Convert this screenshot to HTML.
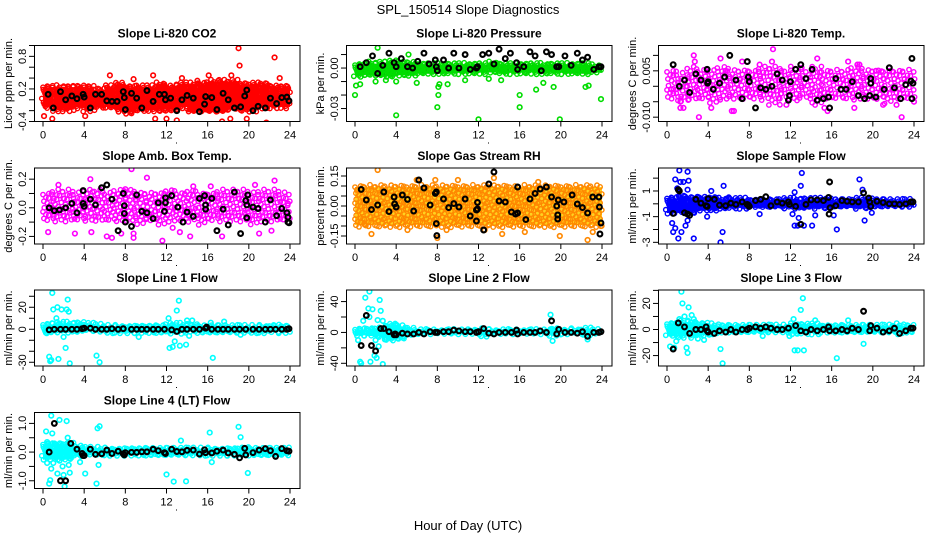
<!DOCTYPE html>
<html><head><meta charset="utf-8"><title>SPL_150514 Slope Diagnostics</title>
<style>
html,body{margin:0;padding:0;background:#fff;}
svg{display:block;font-family:"Liberation Sans",sans-serif;}
</style></head>
<body>
<svg id="chart" width="936" height="540" viewBox="0 0 936 540" xmlns="http://www.w3.org/2000/svg">
<rect x="0" y="0" width="936" height="540" fill="#fff"/>
<text x="468" y="14" text-anchor="middle" font-size="13">SPL_150514  Slope Diagnostics</text>
<text x="468" y="530" text-anchor="middle" font-size="13">Hour of Day (UTC)</text>
</svg>
<script>
// ---------------- DATA ----------------
const xTicks = [0,4,8,12,16,20,24];

const co2Lo = [-0.15,-0.2,-0.2,-0.15,-0.2,-0.15,-0.15,-0.2,-0.25,-0.2,-0.2,-0.2,-0.2,-0.15,-0.25,-0.25,-0.25,-0.25,-0.2,-0.2,-0.2,-0.15,-0.15,-0.15];
const co2Hi = [0.25,0.25,0.25,0.25,0.25,0.2,0.25,0.3,0.25,0.25,0.25,0.3,0.25,0.3,0.3,0.3,0.35,0.35,0.35,0.3,0.3,0.3,0.25,0.25];
const co2Outliers = [[0.1,-0.3],[0.9,-0.35],[4.1,-0.3],[6.5,0.45],[8.8,0.38],[10.7,0.45],[10.9,-0.35],[13.5,0.4],[15.5,-0.45],[16.1,0.45],[17.4,-0.4],[18.2,-0.35],[18.3,0.45],[19.0,0.95],[19.1,0.63],[19.8,-0.35],[21.7,-0.42],[22.5,0.78],[23.0,0.4],[12.0,-0.35],[15.0,0.35],[13,-0.38]];
const co2Hourly = [[0.5,0.1],[1.0,-0.15],[1.7,0.15],[2.2,0.0],[2.8,0.07],[3.3,0.02],[3.9,0.1],[4.0,0.05],[4.6,-0.15],[5.1,0.1],[5.7,0.1],[6.2,-0.02],[6.7,-0.03],[7.2,-0.03],[7.8,0.15],[7.9,0.04],[8.0,-0.18],[8.6,0.12],[9.1,0.03],[9.6,-0.15],[10.1,0.17],[10.7,-0.03],[11.3,0.1],[11.8,0.1],[11.9,0.0],[12.4,0.03],[13.0,-0.2],[13.5,0.0],[14.0,0.08],[14.6,0.03],[15.2,-0.22],[15.7,-0.08],[15.8,0.06],[16.4,0.04],[16.9,-0.18],[17.5,0.12],[18.0,0.0],[18.6,-0.15],[19.2,-0.13],[19.6,0.07],[19.8,0.18],[20.4,-0.2],[20.9,-0.12],[21.6,-0.15],[22.1,0.03],[22.7,-0.07],[23.2,0.04],[23.7,0.05],[23.9,-0.02]];

const presLo = [-0.006,-0.006,-0.007,-0.007,-0.006,-0.006,-0.005,-0.005,-0.005,-0.004,-0.004,-0.004,-0.004,-0.004,-0.005,-0.004,-0.004,-0.004,-0.004,-0.004,-0.004,-0.005,-0.005,-0.004];
const presHi = [0.003,0.004,0.004,0.005,0.004,0.004,0.003,0.003,0.003,0.003,0.003,0.003,0.003,0.004,0.003,0.003,0.003,0.003,0.003,0.003,0.003,0.003,0.003,0.002];
const presOutliers = [[0.0,-0.02],[0.1,-0.013],[2.2,0.015],[4.0,-0.035],[5.2,0.010],[8.0,-0.029],[8.1,-0.02],[8.1,-0.014],[8.2,-0.012],[9.0,-0.012],[12.0,-0.038],[16.0,-0.02],[16.0,-0.029],[17.6,-0.016],[19.9,-0.038],[19.3,-0.014],[22.4,-0.014],[22.7,-0.013],[23.9,-0.023],[3.0,-0.009],[4.0,-0.01],[6.0,-0.011],[10.7,-0.009],[13.0,-0.008],[14.2,-0.009],[18.3,-0.011],[2.0,-0.01],[0.5,-0.012]];
const presHourly = [[0.5,0.001],[1.1,0.004],[1.7,0.009],[2.2,-0.004],[2.7,0.002],[3.3,0.011],[3.8,0.004],[4.0,0.001],[4.5,0.007],[5.1,0.001],[5.6,0],[6.1,0.005],[6.7,0.011],[7.2,0.003],[7.8,0.006],[7.9,0.001],[8.0,-0.002],[8.6,0.006],[9.1,0],[9.6,0.011],[10.1,0],[10.7,0.01],[11.2,-0.001],[11.8,0],[11.9,0.001],[12.4,0.01],[13.0,0.011],[13.5,0.003],[14.0,0.014],[14.6,0.007],[15.1,0.011],[15.7,0.004],[15.8,-0.001],[16.4,0.001],[17.0,0.012],[17.5,0.009],[18.1,-0.002],[18.6,0.012],[19.1,0.010],[19.6,0.001],[19.8,0.001],[20.4,0.009],[21.0,0.002],[21.6,0.011],[22.1,0.006],[22.6,0.008],[23.2,-0.001],[23.7,0.001],[23.9,0.001]];

const tempLo = [-0.005,-0.006,-0.005,-0.005,-0.006,-0.005,-0.005,-0.005,-0.005,-0.005,-0.006,-0.005,-0.005,-0.005,-0.006,-0.005,-0.005,-0.005,-0.005,-0.005,-0.005,-0.006,-0.005,-0.005];
const tempHi = [0.005,0.004,0.006,0.005,0.005,0.006,0.005,0.005,0.005,0.006,0.006,0.005,0.006,0.005,0.006,0.005,0.005,0.005,0.006,0.005,0.005,0.005,0.005,0.005];
const tempOutliers = [[0.4,-0.001],[1.3,-0.005],[1.3,-0.007],[1.6,-0.007],[2.6,0.010],[2.7,0.008],[3.1,-0.010],[4.3,-0.007],[5.2,0.009],[5.7,0.005],[6.3,-0.008],[6.5,-0.008],[7.3,0.008],[9.0,0.007],[10.3,0.012],[10.2,0.008],[11.6,-0.006],[14.6,0.009],[15.3,-0.007],[15.6,-0.008],[17.6,0.008],[18.2,-0.007],[18.5,0.007],[18.7,0.007],[22.8,-0.010],[22.3,-0.006],[24,-0.005],[20.3,0.005],[21.0,-0.006]];
const tempHourly = [[0.6,0.007],[1.2,0.0],[1.7,0.002],[2.2,-0.002],[2.8,0.004],[3.3,0.002],[3.9,0.0055],[3.95,0.001],[4.0,0.0015],[4.5,-0.001],[5.1,0.001],[5.6,0.003],[6.1,0.010],[6.7,0.002],[7.3,-0.004],[7.8,0.008],[7.9,0.003],[8.0,0.0015],[8.6,-0.007],[9.1,-0.0005],[9.6,-0.001],[10.2,0],[10.7,0.004],[11.2,0.002],[11.8,-0.0045],[11.9,-0.003],[12.0,0.0015],[12.5,0.0055],[13.0,0.007],[13.5,0.0025],[14.1,0.0055],[14.6,-0.0045],[15.2,-0.004],[15.7,-0.0035],[15.8,-0.007],[16.4,0.0025],[16.9,-0.001],[17.4,-0.001],[18.0,0.0015],[18.6,-0.003],[19.2,-0.004],[19.7,-0.003],[19.8,0.001],[19.8,0.0025],[20.3,-0.0035],[21.1,-0.001],[21.6,0.006],[22.1,-0.0005],[22.7,-0.004],[23.2,0.0005],[23.7,0.0017],[23.8,0.009],[23.9,0.001],[23.8,-0.004]];

const ambLo = [-0.1,-0.1,-0.12,-0.1,-0.1,-0.12,-0.1,-0.1,-0.1,-0.12,-0.1,-0.12,-0.1,-0.1,-0.1,-0.12,-0.1,-0.1,-0.1,-0.1,-0.12,-0.1,-0.1,-0.1];
const ambHi = [0.1,0.12,0.12,0.1,0.12,0.12,0.1,0.12,0.12,0.1,0.1,0.1,0.12,0.1,0.12,0.1,0.1,0.12,0.12,0.12,0.1,0.12,0.12,0.1];
const ambOutliers = [[0.5,-0.17],[1.5,0.16],[3.1,-0.18],[4.6,0.2],[4.7,-0.17],[6.2,-0.2],[6.7,-0.21],[7.6,-0.18],[8.0,0.13],[8.6,0.27],[8.8,-0.18],[8.8,-0.21],[10.1,0.21],[11.6,-0.23],[12.6,-0.14],[13.3,-0.17],[14.3,-0.2],[17.4,-0.2],[21.0,-0.18],[22.5,0.19],[23.8,0.03],[14.6,0.15],[22.2,-0.16],[16.3,0.15],[20.6,0.16]];
const ambHourly = [[0.6,0],[1.1,-0.02],[1.6,-0.015],[2.2,0],[2.8,0.03],[3.3,-0.035],[3.9,0.12],[3.9,0.03],[4.0,0.01],[4.6,0.06],[5.1,0.02],[5.7,0.14],[6.2,0.16],[6.7,0.06],[7.3,-0.16],[7.8,0.1],[7.9,0.015],[7.9,-0.04],[8.0,-0.1],[8.6,-0.13],[9.1,0.09],[9.6,-0.025],[10.1,-0.035],[10.7,-0.075],[11.2,0.035],[11.8,-0.025],[11.9,0.07],[11.9,0.035],[12.5,0.085],[13.1,0.005],[13.6,-0.1],[14.0,-0.03],[14.6,-0.06],[15.2,0.065],[15.7,0.085],[15.8,0.02],[15.8,-0.01],[16.4,0.065],[16.9,-0.16],[17.5,-0.01],[18.0,-0.12],[18.6,0.11],[19.2,-0.18],[19.7,0.05],[19.8,0.02],[19.9,0.09],[19.8,-0.07],[20.4,0.005],[20.9,-0.005],[21.6,-0.1],[22.1,0.055],[22.7,-0.055],[23.2,-0.005],[23.7,-0.035],[23.8,-0.1],[23.9,-0.105],[23.8,-0.065]];

const rhLo = [-0.1,-0.1,-0.1,-0.1,-0.1,-0.1,-0.1,-0.1,-0.1,-0.1,-0.1,-0.1,-0.1,-0.1,-0.1,-0.1,-0.1,-0.1,-0.1,-0.1,-0.1,-0.1,-0.1,-0.1];
const rhHi = [0.1,0.1,0.1,0.1,0.1,0.1,0.1,0.1,0.1,0.1,0.1,0.1,0.1,0.1,0.1,0.1,0.1,0.1,0.1,0.1,0.1,0.1,0.1,0.1];
const rhOutliers = [[2.2,0.18],[1.6,-0.14],[0.9,-0.09],[5.1,-0.12],[8.0,-0.16],[8.9,-0.12],[12.6,-0.12],[14.3,-0.14],[16.5,-0.13],[19.9,-0.15],[22.6,-0.17],[23.1,-0.13],[23.9,-0.1],[7.8,0.13],[10.0,0.13],[13.5,0.14],[0.2,0.08],[6.0,0.13],[17.8,0.12]];
const rhHourly = [[0.6,0.083],[1.1,0.03],[1.6,-0.018],[2.2,0.005],[2.8,0.07],[3.3,-0.028],[3.8,0.045],[3.85,0.01],[4.0,-0.005],[4.6,0.055],[5.1,0.033],[5.7,-0.025],[6.2,0.13],[6.7,0.09],[7.3,0.005],[7.8,0.063],[7.9,0.07],[7.9,-0.088],[7.95,-0.148],[8.6,0.035],[9.1,-0.008],[9.6,0.012],[10.1,-0.005],[10.7,0.035],[11.2,-0.05],[11.8,-0.02],[11.9,-0.015],[11.8,-0.075],[11.9,0.018],[12.5,-0.12],[13.0,0.11],[13.5,0.17],[14.0,0.025],[14.6,0.02],[15.2,-0.03],[15.6,-0.04],[15.8,0.095],[15.8,-0.035],[16.6,-0.068],[17.0,0.035],[17.5,0.063],[18.0,0.085],[18.6,0.095],[19.1,0.045],[19.6,0.0],[19.75,0.03],[19.7,-0.045],[19.7,-0.065],[20.3,0.02],[21.1,0.055],[21.6,0.01],[22.1,-0.008],[22.6,-0.035],[23.1,0.045],[23.7,0.045],[23.75,-0.005],[23.9,-0.085],[23.8,-0.14]];

const flowLo = [-0.8,-0.8,-0.7,-0.6,-0.6,-0.5,-0.4,-0.4,-0.4,-0.4,-0.4,-0.4,-0.5,-0.5,-0.4,-0.4,-0.4,-0.4,-0.4,-0.4,-0.3,-0.3,-0.3,-0.3];
const flowHi = [0.5,0.6,0.5,0.5,0.5,0.4,0.4,0.4,0.3,0.3,0.3,0.4,0.4,0.4,0.4,0.4,0.3,0.3,0.4,0.4,0.3,0.3,0.3,0.3];
const flowOutliers = [[1.2,2.6],[2.0,2.5],[0.8,1.9],[2.1,1.8],[1.3,1.7],[1.6,1.7],[1.0,1.2],[2.0,1.1],[0.5,-1.5],[0.6,-2.2],[0.8,-1.9],[1.1,-2.7],[1.4,-2.2],[1.8,-1.7],[2.0,-1.3],[2.6,-2.7],[3.9,-1.0],[4.3,1.0],[5.2,-3.0],[5.4,-2.2],[5.5,1.4],[6.0,0.5],[12.2,-0.8],[12.4,-1.7],[12.7,-1.7],[12.8,-1.1],[13.0,1.4],[13.1,2.4],[13.3,-1.7],[14.1,-1.7],[14.4,-0.9],[16.2,-0.9],[16.5,-2.0],[18.7,1.9],[19.2,-1.3],[19.0,1.1],[19.9,-0.7],[12.4,0.9],[9.0,-0.8]];
const flowHourly = [[0.6,-0.75],[1.1,1.1],[1.2,1.0],[1.7,-0.7],[2.0,-0.8],[2.2,-0.9],[2.8,0.35],[3.3,0.05],[3.8,-0.15],[3.9,-0.2],[4.0,0.4],[4.6,0.35],[5.1,-0.1],[5.7,-0.15],[6.2,0.05],[6.7,-0.05],[7.3,0.15],[7.8,-0.05],[7.9,-0.1],[8.0,-0.2],[8.6,0.25],[9.1,0.35],[9.6,0.55],[10.1,-0.15],[10.7,0.15],[11.2,0.05],[11.8,0.15],[11.9,-0.05],[12.5,-0.2],[13.0,-1.6],[13.5,-0.05],[14.0,0.3],[14.6,0.3],[15.2,0.25],[15.7,0.5],[15.8,1.7],[15.75,-0.8],[15.85,-0.3],[16.4,-0.15],[17.0,0.25],[17.5,0.2],[18.0,0.15],[18.6,0.15],[19.1,0.85],[19.6,0.45],[19.7,0.15],[19.8,-0.2],[20.4,0.2],[21.0,0.1],[21.6,0.0],[22.1,0.0],[22.6,-0.05],[23.2,0.0],[23.7,0.15],[23.9,0.15]];

const l1Lo = [-5,-4,-4,-4,-3,-3,-3,-3,-3,-3,-3,-3,-4,-4,-3,-3,-3,-3,-3,-3,-3,-3,-3,-3];
const l1Hi = [5,6,6,6,5,4,3,3,3,3,3,3,5,5,4,3,3,3,3,3,3,3,4,3];
const l1Outliers = [[0.9,33],[1.0,18],[1.3,10],[1.4,20],[1.8,18],[2.3,18],[2.4,27],[2.5,16],[0.6,-25],[0.7,-29],[0.8,-28],[1.5,-27],[2.0,-7],[2.2,-17],[2.6,-31],[5.2,-24],[5.5,-30],[9.3,-7],[12.2,10],[12.3,-17],[12.6,-16],[12.8,-11],[13.0,17],[13.2,26],[13.3,-15],[13.9,-14],[14.2,-6],[16.3,6],[16.5,-26],[17.6,7],[14.0,8],[14.5,8],[19.2,-5]];
const l1Hourly = [[0.6,-0.5],[1.1,0],[1.7,0],[2.2,0],[2.8,0],[3.3,0],[3.8,0.5],[4.0,1],[4.6,1],[5.1,0],[5.7,0],[6.2,0],[6.7,0.5],[7.3,0],[7.8,0.5],[8.6,0],[9.1,0],[9.6,0],[10.1,0],[10.7,0],[11.2,0],[11.8,0],[12.5,-0.5],[13.0,-2],[13.5,0],[14.0,0],[14.6,0],[15.2,0],[15.8,1],[15.9,2],[16.4,0],[17.0,0],[17.5,0],[18.0,0],[18.6,0],[19.1,0],[19.7,0],[20.4,0],[21.0,0],[21.6,0],[22.1,0],[22.6,0],[23.2,0],[23.7,0],[23.9,0.5]];

const l2Lo = [-5,-6,-6,-10,-8,-4,-3,-3,-3,-3,-3,-3,-4,-3,-3,-3,-3,-3,-3,-4,-3,-3,-4,-3];
const l2Hi = [5,5,6,10,8,5,3,3,3,3,3,3,4,3,3,3,3,3,3,5,3,4,5,3];
const l2Outliers = [[0.5,-38],[0.6,-40],[0.8,15],[1.0,45],[1.3,31],[1.4,20],[1.4,53],[1.7,30],[1.5,-38],[1.9,-30],[2.0,-10],[2.1,-33],[2.2,16],[2.3,-18],[2.4,42],[2.5,28],[2.7,-41],[2.9,-9],[19.0,23],[19.2,-11],[0.3,-10],[22.6,-9],[2.7,15],[3.5,8],[4.0,10]];
const l2Hourly = [[0.6,-17],[1.1,22],[1.6,-17],[2.0,-24],[2.5,5],[2.8,5],[3.3,1],[3.8,-3],[3.9,-2],[4.0,-3],[4.6,-1],[5.1,-2],[5.7,-2],[6.2,0],[6.7,-2],[7.3,1],[7.8,0],[8.0,0],[8.6,1],[9.1,1],[9.6,3],[10.1,2],[10.7,1],[11.2,1],[11.8,0],[12.0,1],[12.5,5],[13.0,-1],[13.5,-2],[14.0,0],[14.6,0],[15.2,0],[15.7,3],[15.8,-2],[16.4,0],[17.0,0],[17.5,0],[18.0,2],[18.6,0],[19.1,15],[19.6,-2],[19.8,4],[20.4,0],[21.0,0],[21.6,-1],[22.1,1],[22.6,-5],[23.2,0],[23.7,0],[23.9,1]];

const l3Lo = [-6,-6,-6,-5,-4,-3,-3,-3,-3,-3,-3,-3,-4,-4,-3,-3,-3,-3,-3,-3,-3,-3,-3,-3];
const l3Hi = [5,6,6,5,4,3,3,3,3,3,3,3,4,4,4,3,3,3,3,3,3,3,4,3];
const l3Outliers = [[0.3,-13],[0.7,-14],[0.9,-9],[1.0,-5],[1.2,8],[1.4,29],[1.5,20],[1.7,10],[1.9,-14],[2.0,-18],[2.1,17],[2.4,11],[2.6,8],[3.0,-7],[3.6,-8],[5.2,-15],[5.4,-26],[11.9,-5],[12.3,8],[12.4,-16],[12.7,-16],[13.0,15],[13.2,24],[13.3,-16],[14.4,7],[16.5,-22],[17.6,7],[19.1,-11],[9.3,-5],[4.1,-4]];
const l3Hourly = [[0.6,-15],[1.1,5],[1.7,2],[2.2,-3],[2.8,0],[3.3,0],[3.8,2],[3.9,-1],[4.0,-2],[4.6,-3],[5.1,-1],[5.7,-2],[6.2,0],[6.7,-2],[7.3,0],[7.8,0],[8.0,1],[8.6,2],[9.1,1],[9.6,2],[10.1,1],[10.7,0],[11.2,0],[11.8,1],[12.5,3],[13.0,-1],[13.5,-2],[14.0,0],[14.6,-1],[15.2,0],[15.7,2],[15.8,-1],[16.4,-1],[17.0,0],[17.5,-1],[18.0,1],[18.6,0],[19.1,14],[19.7,-1],[19.8,3],[20.4,1],[21.0,-2],[21.6,-1],[22.1,1],[22.6,-3],[23.2,-1],[23.7,1],[23.9,1]];

const l4Lo = [-0.3,-0.3,-0.3,-0.2,-0.15,-0.15,-0.12,-0.12,-0.12,-0.12,-0.12,-0.12,-0.12,-0.12,-0.12,-0.12,-0.12,-0.12,-0.12,-0.15,-0.12,-0.12,-0.12,-0.12];
const l4Hi = [0.3,0.3,0.3,0.2,0.15,0.15,0.12,0.12,0.12,0.12,0.12,0.12,0.12,0.12,0.12,0.12,0.12,0.12,0.12,0.15,0.12,0.12,0.12,0.12];
const l4Outliers = [[0.3,0.72],[0.4,0.35],[0.4,-0.38],[0.6,-1.1],[0.7,-0.98],[0.8,1.27],[0.9,0.65],[0.8,-0.58],[1.0,-0.38],[1.3,0.22],[1.4,-0.75],[1.6,1.12],[1.9,-0.5],[2.0,-0.8],[2.1,-1.2],[2.3,1.08],[2.4,0.5],[2.5,-0.45],[2.6,-0.72],[2.7,0.25],[3.6,-0.35],[4.1,-0.75],[5.2,-1.1],[5.3,0.83],[5.5,0.9],[5.4,-0.45],[12.0,-0.78],[12.7,-1.03],[13.4,0.4],[13.9,-1.02],[16.2,0.68],[16.4,-0.35],[19.0,0.88],[19.2,0.52],[19.9,-0.73],[1.1,0.3],[1.6,-0.3]];
const l4Hourly = [[0.6,0],[1.1,1.0],[1.7,-1.0],[2.2,-1.0],[2.7,0.3],[3.3,0.1],[3.8,-0.05],[3.9,-0.12],[4.0,-0.12],[4.6,0.1],[5.1,-0.08],[5.7,-0.06],[6.2,0.07],[6.7,-0.05],[7.3,0.03],[7.8,-0.06],[7.9,-0.1],[8.0,-0.02],[8.6,-0.01],[9.1,-0.01],[9.6,0.01],[10.1,0.01],[10.7,0.1],[11.2,0.05],[11.8,-0.02],[11.9,-0.05],[12.5,0.1],[13.0,0.02],[13.5,0.01],[14.0,0.06],[14.6,0.07],[15.2,-0.07],[15.7,0.08],[15.8,-0.02],[16.4,-0.03],[16.9,0.03],[17.5,0.07],[18.0,-0.03],[18.6,-0.08],[19.1,-0.2],[19.6,0.13],[19.7,-0.1],[20.4,-0.02],[21.0,0.07],[21.6,0.12],[22.1,0.05],[22.6,-0.15],[23.2,0.12],[23.7,0.05],[23.9,0.03]];

// ---------------- RENDER ----------------
const NS = "http://www.w3.org/2000/svg";
const svg = document.getElementById('chart');
function mk(tag, attrs, parent){
  const e = document.createElementNS(NS, tag);
  for (const k in attrs) e.setAttribute(k, attrs[k]);
  parent.appendChild(e);
  return e;
}
const panels = [
 {key:'co2', title:'Slope Li-820 CO2', ylab:'Licor ppm per min.', col:0,row:0, ymin:-0.4,ymax:1.0, ticks:[-0.4,-0.2,0,0.2,0.4,0.6,0.8,1.0], labels:[[-0.4,'-0.4'],[0.2,'0.2'],[0.8,'0.8']], color:'#ff0000', bandFill:'#ff0000', dx:3, dy:3, lo:co2Lo, hi:co2Hi, out:co2Outliers, blk:co2Hourly},
 {key:'pressure', title:'Slope Li-820 Pressure', ylab:'kPa per min.', col:1,row:0, ymin:-0.0396,ymax:0.0167, ticks:[0.01,0,-0.01,-0.02,-0.03], labels:[[0,'0.00'],[-0.03,'-0.03']], color:'#00dd00', bandFill:'#00cc00', dx:3, dy:3, lo:presLo, hi:presHi, out:presOutliers, blk:presHourly},
 {key:'temp', title:'Slope Li-820 Temp.', ylab:'degrees C per min.', col:2,row:0, ymin:-0.0114,ymax:0.0132, ticks:[-0.01,-0.005,0,0.005,0.01], labels:[[0.005,'0.005'],[-0.01,'-0.010']], color:'#ff00ff', bandFill:null, dx:5, dy:4.5, lo:tempLo, hi:tempHi, out:tempOutliers, blk:tempHourly},
 {key:'amb', title:'Slope Amb. Box Temp.', ylab:'degrees C per min.', col:0,row:1, ymin:-0.253,ymax:0.278, ticks:[-0.2,-0.1,0,0.1,0.2], labels:[[0.2,'0.2'],[0,'0.0'],[-0.2,'-0.2']], color:'#ff00ff', bandFill:null, dx:4.6, dy:4.3, lo:ambLo, hi:ambHi, out:ambOutliers, blk:ambHourly},
 {key:'rh', title:'Slope Gas Stream RH', ylab:'percent per min.', col:1,row:1, ymin:-0.19,ymax:0.19, ticks:[-0.15,-0.1,-0.05,0,0.05,0.1,0.15], labels:[[0.15,'0.15'],[0,'0.00'],[-0.15,'-0.15']], color:'#ff8800', bandFill:'#ffd21f', dx:4.4, dy:4, lo:rhLo, hi:rhHi, out:rhOutliers, blk:rhHourly},
 {key:'sample', title:'Slope Sample Flow', ylab:'ml/min per min.', col:2,row:1, ymin:-3.13,ymax:2.79, ticks:[-3,-2,-1,0,1,2], labels:[[1,'1'],[-1,'-1'],[-3,'-3']], color:'#0000ff', bandFill:'#0000ff', dx:3, dy:3, lo:flowLo, hi:flowHi, out:flowOutliers, blk:flowHourly},
 {key:'line1', title:'Slope Line 1 Flow', ylab:'ml/min per min.', col:0,row:2, ymin:-33.4,ymax:35.7, ticks:[-30,-20,-10,0,10,20,30], labels:[[20,'20'],[0,'0'],[-30,'-30']], color:'#00ffff', bandFill:'#00ffff', dx:3, dy:3, lo:l1Lo, hi:l1Hi, out:l1Outliers, blk:l1Hourly},
 {key:'line2', title:'Slope Line 2 Flow', ylab:'ml/min per min.', col:1,row:2, ymin:-43.5,ymax:55, ticks:[-40,-20,0,20,40], labels:[[40,'40'],[0,'0'],[-40,'-40']], color:'#00ffff', bandFill:'#00ffff', dx:3, dy:3, lo:l2Lo, hi:l2Hi, out:l2Outliers, blk:l2Hourly},
 {key:'line3', title:'Slope Line 3 Flow', ylab:'ml/min per min.', col:2,row:2, ymin:-28,ymax:30.3, ticks:[-20,-10,0,10,20,30], labels:[[20,'20'],[0,'0'],[-20,'-20']], color:'#00ffff', bandFill:'#00ffff', dx:3, dy:3, lo:l3Lo, hi:l3Hi, out:l3Outliers, blk:l3Hourly},
 {key:'line4', title:'Slope Line 4 (LT) Flow', ylab:'ml/min per min.', col:0,row:3, ymin:-1.27,ymax:1.38, ticks:[-1,-0.5,0,0.5,1], labels:[[1,'1.0'],[0,'0.0'],[-1,'-1.0']], color:'#00ffff', bandFill:'#00ffff', dx:3, dy:3, lo:l4Lo, hi:l4Hi, out:l4Outliers, blk:l4Hourly}
];
const rowTops = [45.5,168,290,412.5];
const H = 76;
const jitterPattern = [0,1.3,-0.8,0.6,-1.2,0.9,-0.4,1.1,-1.0,0.3];

panels.forEach(p => {
  const cx = p.col*312, top = rowTops[p.row], bot = top+H;
  const X = h => cx + 43 + h*247/24;
  const Y = v => top + (p.ymax - v)/(p.ymax - p.ymin)*H;
  const g = mk('g', {}, svg);
  
  
  const clipId = 'clip-' + p.key;
  const cp = mk('clipPath', {id: clipId}, g);
  mk('rect', {x: cx+34, y: top, width: 266, height: H}, cp);
  const t = mk('text', {x: cx+167, y: top-8, 'text-anchor':'middle', 'font-size':'12', 'font-weight':'bold'}, g);
  t.textContent = p.title;
  
  
  const yl = mk('text', {x: 0, y: 0, transform: 'translate(' + (cx+12) + ',' + (top+H/2) + ') rotate(-90)', 'text-anchor':'middle', 'font-size':'11'}, g);
  yl.textContent = p.ylab;
  
  
  const plot = mk('g', {'clip-path': 'url(#' + clipId + ')'}, g);
  
  
  let k = 0;
  for (let i = 0; i < 24; i++) {
    const x0 = X(i), x1 = X(i+1), yTop = Y(p.hi[i]), yBot = Y(p.lo[i]);
    if (p.bandFill) {
      const br = mk('rect', {x: x0, y: yTop + 1, width: x1-x0, height: Math.max(0, yBot-yTop-2), fill: p.bandFill}, plot);
      
      
    }
    let r = 0;
    for (let yy = yTop; yy <= yBot + 0.01; yy += p.dy, r++) {
      for (let xx = x0 + (r%2 ? p.dx/2 : 0); xx < x1; xx += p.dx) {
        const jx = jitterPattern[k % 10], jy = jitterPattern[(k*3+7) % 10];
        k++;
        const c = mk('circle', {cx: (xx+jx).toFixed(1), cy: (yy+jy).toFixed(1), r: 2.2, fill: 'none', stroke: p.color, 'stroke-width': 1.4}, plot);
        
        
      }
    }
  }
  p.out.forEach(d => {
    const c = mk('circle', {cx: X(d[0]), cy: Y(d[1]), r: 2.3, fill: 'none', stroke: p.color, 'stroke-width': 1.6}, plot);
    
    
  });
  p.blk.forEach(d => {
    const c = mk('circle', {cx: X(d[0]), cy: Y(d[1]), r: 2.4, fill: 'none', stroke: '#000', 'stroke-width': 2.1}, plot);
    
    
  });
  const box = mk('rect', {x: cx+34.5, y: top, width: 265.5, height: H, fill: 'none', stroke: '#000', 'stroke-width': 1}, g);
  
  
  p.ticks.forEach(v => {
    const tk = mk('line', {x1: cx+29, x2: cx+34.5, y1: Y(v), y2: Y(v), stroke: '#000', 'stroke-width': 1}, g);
    
    
  });
  p.labels.forEach(l => {
    const tl = mk('text', {x: 0, y: 0, transform: 'translate(' + (cx+26) + ',' + Y(l[0]) + ') rotate(-90)', 'text-anchor':'middle', 'font-size':'11'}, g);
    tl.textContent = l[1];
    
    
  });
  xTicks.forEach(h => {
    const tk = mk('line', {x1: X(h), x2: X(h), y1: bot, y2: bot+5, stroke: '#000', 'stroke-width': 1}, g);
    
    
    const tl = mk('text', {x: X(h), y: bot+17, 'text-anchor':'middle', 'font-size':'11'}, g);
    tl.textContent = String(h);
    
    
  });
  const dot = mk('rect', {x: cx+176, y: bot+21, width: 1, height: 1, fill: '#000'}, g);
  
  
});
</script>
</body></html>
